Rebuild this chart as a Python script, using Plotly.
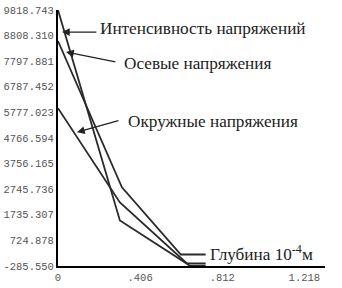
import plotly.graph_objects as go

# Data
depth_intensity = [0.0, 0.306, 0.636, 0.73]
intensity = [9818.743, 1513, -187, -187]

depth_axial = [0.0, 0.316, 0.607, 0.73]
axial = [8593, 2818, 168, 168]

depth_hoop = [0.0, 0.306, 0.651, 0.73]
hoop = [5943, 2225, -285.55, -285.55]

y_tick_labels = ["9818.743", "8808.310", "7797.881", "6787.452", "5777.023",
                 "4766.594", "3756.165", "2745.736", "1735.307", "724.878", "-285.550"]
x_tick_labels = ["0", ".406", ".812", "1.218"]
x_tick_vals = [0, 0.406, 0.812, 1.218]

y_min, y_max = -285.55, 9818.743

line_style = dict(color="#2a2a2a", width=1.8)

fig = go.Figure()
fig.add_trace(go.Scatter(x=depth_intensity, y=intensity, mode="lines", line=line_style,
                         name="Интенсивность напряжений"))
fig.add_trace(go.Scatter(x=depth_axial, y=axial, mode="lines", line=line_style,
                         name="Осевые напряжения"))
fig.add_trace(go.Scatter(x=depth_hoop, y=hoop, mode="lines", line=line_style,
                         name="Окружные напряжения"))

serif = dict(family="Liberation Serif, Times New Roman, serif", size=17.2, color="#222222")

labels = [
    ("Интенсивность напряжений", 0.200, 9107),
    ("Осевые напряжения", 0.316, 7723),
    ("Окружные напряжения", 0.335, 5429),
    ("Глубина 10<sup>-4</sup>м", 0.740, 247),
]
for text, x, y in labels:
    fig.add_annotation(x=x, y=y, text=text, showarrow=False, xanchor="left",
                       yanchor="middle", font=serif)

arrows = [
    (0.0197, 8949, 0.197, 8949),
    (0.0395, 8158, 0.291, 7762),
    (0.0937, 4994, 0.306, 5468),
]
for hx, hy, tx, ty in arrows:
    fig.add_annotation(x=hx, y=hy, ax=tx, ay=ty, axref="x", ayref="y", text="",
                       showarrow=True, arrowhead=2, arrowsize=1.2, arrowwidth=1.3,
                       arrowcolor="#222222")

mono = dict(family="Liberation Mono, Courier New, monospace", size=10.5, color="#555555")

fig.update_layout(
    width=342, height=288,
    margin=dict(l=58, r=17, t=10, b=22, autoexpand=False),
    paper_bgcolor="white", plot_bgcolor="white",
    showlegend=False,
    xaxis=dict(range=[0, 1.32], tickvals=x_tick_vals, ticktext=x_tick_labels,
               showgrid=False, zeroline=False, showline=True, linecolor="black",
               linewidth=2, ticks="", tickfont=mono, automargin=False),
    yaxis=dict(range=[y_min, y_max],
               tickvals=[float(v) for v in y_tick_labels], ticktext=y_tick_labels,
               showgrid=False, zeroline=False, showline=True, linecolor="black",
               linewidth=2, ticks="", tickfont=mono, automargin=False),
)

# remove the default page margin so the figure sits at the window's top-left corner
fig.write_html("out.html", config={"displayModeBar": False},
               post_script="document.body.style.margin='0';")
